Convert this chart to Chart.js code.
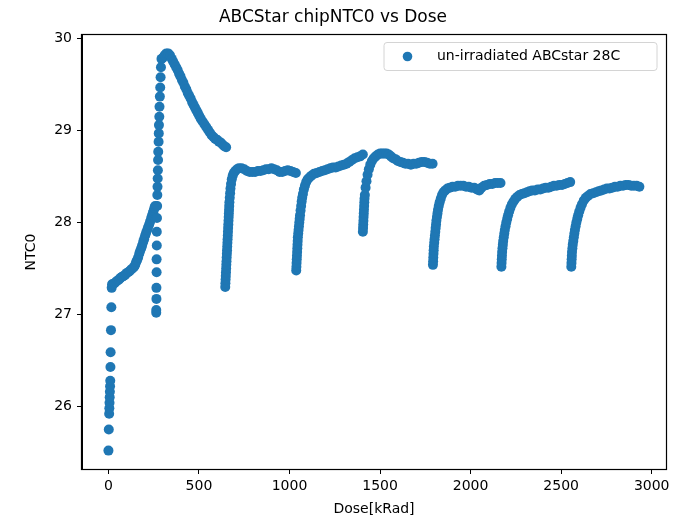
<!DOCTYPE html>
<html>
<head>
<meta charset="utf-8">
<script src="https://cdn.jsdelivr.net/npm/chart.js@4.4.0/dist/chart.umd.min.js"></script>
<style>
    html, body { margin: 0; padding: 0; background: #fff; }
</style>
</head>
<body>
<canvas id="chart" width="682" height="521"></canvas>
<script>
// values, one pair of arrays per run of points
const doseStart = [0, 2, 4, 5, 6, 7, 8, 9, 10, 11, 12, 14, 16, 18, 20];
const ntcStart = [25.52, 25.75, 25.92, 25.98, 26.04, 26.10, 26.16, 26.22, 26.28, 26.43, 26.59, 26.83, 27.08, 27.29, 27.33];

const doseRamp = [24, 34, 43, 51, 59, 67, 76, 84, 92, 100, 109, 117, 125, 133, 142, 148, 153, 158, 164, 170, 175, 181, 186, 192, 197, 203, 208, 214, 219, 225, 230, 236, 241, 246, 250, 254, 258];
const ntcRamp = [27.33, 27.34, 27.36, 27.37, 27.38, 27.40, 27.41, 27.42, 27.43, 27.45, 27.46, 27.47, 27.49, 27.50, 27.52, 27.54, 27.57, 27.59, 27.62, 27.66, 27.69, 27.72, 27.75, 27.79, 27.82, 27.86, 27.89, 27.92, 27.95, 27.98, 28.01, 28.05, 28.08, 28.11, 28.13, 28.16, 28.18];

const doseSpike = [264, 264, 265, 265, 266, 266, 267, 267, 268, 269, 270, 271, 272, 273, 274, 275, 277, 278, 279, 281, 282, 284, 286, 288, 290, 293];
const ntcSpike = [27.02, 27.05, 27.17, 27.29, 27.46, 27.60, 27.75, 27.90, 28.05, 28.18, 28.30, 28.39, 28.48, 28.57, 28.68, 28.77, 28.88, 28.97, 29.06, 29.15, 29.26, 29.37, 29.47, 29.58, 29.69, 29.78];

const dosePeak = [300, 310, 320, 330, 340, 350, 358, 366, 374, 382, 390, 398, 406, 414, 422, 430, 438, 446, 454, 462, 470, 478, 486, 494, 502, 510, 520, 530, 540, 550, 560, 570, 580, 590, 600, 610, 620, 630, 640, 650];
const ntcPeak = [29.79, 29.82, 29.84, 29.84, 29.82, 29.78, 29.75, 29.72, 29.69, 29.66, 29.62, 29.59, 29.55, 29.52, 29.48, 29.45, 29.41, 29.38, 29.35, 29.31, 29.28, 29.25, 29.22, 29.19, 29.16, 29.13, 29.10, 29.07, 29.04, 29.01, 28.98, 28.95, 28.93, 28.91, 28.90, 28.88, 28.87, 28.85, 28.83, 28.82];

const dose3 = [645, 646, 647, 648, 649, 650, 651, 652, 653, 654, 655, 656, 657, 658, 659, 660, 661, 662, 663, 664, 665, 666, 667, 668, 670, 672, 674, 677, 681, 686, 692, 700, 710, 720, 735, 750, 765, 780, 795, 810, 825, 840, 855, 870, 885, 900, 915, 930, 945, 960, 975, 990, 1005, 1020, 1035];
const ntc3 = [27.30, 27.34, 27.38, 27.42, 27.46, 27.50, 27.54, 27.58, 27.62, 27.66, 27.70, 27.74, 27.78, 27.82, 27.86, 27.90, 27.94, 27.98, 28.02, 28.06, 28.10, 28.14, 28.18, 28.22, 28.27, 28.32, 28.37, 28.42, 28.47, 28.51, 28.54, 28.56, 28.58, 28.59, 28.59, 28.58, 28.56, 28.55, 28.55, 28.55, 28.56, 28.56, 28.57, 28.58, 28.58, 28.59, 28.58, 28.57, 28.55, 28.55, 28.56, 28.57, 28.56, 28.55, 28.54];

const dose4 = [1037, 1038, 1039, 1040, 1041, 1042, 1043, 1044, 1045, 1046, 1048, 1050, 1052, 1054, 1056, 1058, 1061, 1064, 1067, 1070, 1074, 1079, 1085, 1092, 1100, 1110, 1120, 1135, 1150, 1165, 1180, 1195, 1210, 1225, 1240, 1255, 1270, 1285, 1300, 1315, 1330, 1345, 1360, 1375, 1390, 1405];
const ntc4 = [27.48, 27.52, 27.56, 27.60, 27.64, 27.68, 27.72, 27.76, 27.80, 27.84, 27.88, 27.92, 27.96, 28.00, 28.04, 28.08, 28.13, 28.18, 28.23, 28.27, 28.31, 28.36, 28.40, 28.44, 28.47, 28.49, 28.51, 28.53, 28.54, 28.55, 28.56, 28.57, 28.58, 28.59, 28.60, 28.60, 28.61, 28.62, 28.63, 28.64, 28.66, 28.68, 28.70, 28.71, 28.72, 28.74];

const dose5 = [1405, 1406, 1407, 1408, 1409, 1410, 1411, 1412, 1413, 1414, 1416, 1420, 1425, 1431, 1438, 1446, 1455, 1465, 1476, 1488, 1500, 1512, 1524, 1536, 1548, 1560, 1572, 1585, 1598, 1612, 1626, 1640, 1655, 1670, 1685, 1700, 1715, 1730, 1745, 1760, 1775, 1790];
const ntc5 = [27.90, 27.94, 27.98, 28.02, 28.06, 28.10, 28.14, 28.18, 28.22, 28.26, 28.30, 28.38, 28.45, 28.52, 28.58, 28.63, 28.67, 28.70, 28.72, 28.74, 28.75, 28.75, 28.75, 28.75, 28.74, 28.72, 28.70, 28.69, 28.67, 28.66, 28.65, 28.64, 28.64, 28.63, 28.64, 28.64, 28.65, 28.66, 28.66, 28.65, 28.64, 28.64];

const dose6 = [1792, 1793, 1794, 1795, 1796, 1797, 1799, 1801, 1803, 1805, 1807, 1809, 1811, 1814, 1817, 1820, 1824, 1829, 1835, 1842, 1850, 1860, 1872, 1885, 1900, 1915, 1930, 1945, 1960, 1975, 1990, 2005, 2020, 2035, 2048, 2060, 2075, 2090, 2105, 2120, 2135, 2150, 2165];
const ntc6 = [27.54, 27.58, 27.62, 27.66, 27.70, 27.74, 27.78, 27.82, 27.86, 27.90, 27.94, 27.98, 28.02, 28.06, 28.10, 28.14, 28.18, 28.22, 28.26, 28.30, 28.33, 28.35, 28.37, 28.38, 28.39, 28.39, 28.40, 28.40, 28.40, 28.39, 28.39, 28.38, 28.38, 28.36, 28.35, 28.38, 28.40, 28.41, 28.42, 28.42, 28.43, 28.43, 28.43];

const dose7 = [2170, 2171, 2172, 2173, 2174, 2176, 2178, 2180, 2183, 2186, 2189, 2193, 2197, 2202, 2207, 2213, 2220, 2228, 2237, 2247, 2258, 2270, 2283, 2297, 2311, 2325, 2340, 2355, 2370, 2385, 2400, 2415, 2430, 2445, 2460, 2475, 2490, 2505, 2520, 2535, 2550];
const ntc7 = [27.52, 27.56, 27.60, 27.64, 27.68, 27.72, 27.76, 27.80, 27.84, 27.88, 27.92, 27.96, 28.00, 28.04, 28.08, 28.12, 28.16, 28.20, 28.23, 28.26, 28.28, 28.30, 28.31, 28.32, 28.33, 28.34, 28.35, 28.35, 28.36, 28.36, 28.37, 28.38, 28.38, 28.39, 28.40, 28.40, 28.41, 28.41, 28.42, 28.43, 28.44];

const dose8 = [2556, 2557, 2558, 2559, 2560, 2562, 2564, 2567, 2570, 2573, 2576, 2580, 2584, 2589, 2594, 2600, 2607, 2615, 2625, 2636, 2648, 2662, 2677, 2692, 2707, 2722, 2737, 2752, 2767, 2782, 2797, 2812, 2827, 2842, 2857, 2872, 2887, 2902, 2917, 2932];
const ntc8 = [27.52, 27.56, 27.60, 27.64, 27.68, 27.72, 27.76, 27.80, 27.84, 27.88, 27.92, 27.96, 28.00, 28.04, 28.08, 28.12, 28.16, 28.20, 28.24, 28.27, 28.29, 28.31, 28.32, 28.33, 28.34, 28.35, 28.36, 28.37, 28.37, 28.38, 28.39, 28.39, 28.40, 28.40, 28.41, 28.41, 28.40, 28.40, 28.40, 28.39];

const doseTicks = [0, 500, 1000, 1500, 2000, 2500, 3000];
const ntcTicks = [26, 27, 28, 29, 30];

const seriesLabel = 'un-irradiated ABCstar 28C';
const blue = '#1f77b4';

const runs = [
    [doseStart, ntcStart], [doseRamp, ntcRamp], [doseSpike, ntcSpike], [dosePeak, ntcPeak],
    [dose3, ntc3], [dose4, ntc4], [dose5, ntc5], [dose6, ntc6], [dose7, ntc7], [dose8, ntc8]
];
const points = [];
for (const [d, t] of runs) {
    d.forEach((x, i) => points.push({ x: x, y: t[i] }));
}

// box round the plot plus the legend in the upper right corner
const framePlugin = {
    id: 'frame',
    afterDraw(chart) {
        const ctx = chart.ctx;
        const a = chart.chartArea;
        ctx.save();
        ctx.strokeStyle = '#000';
        ctx.lineWidth = 1.2;
        ctx.strokeRect(a.left - 0.5, a.top - 0.5, a.right - a.left + 1, a.bottom - a.top + 1);

        const bx = 384, by = 42.5, bw = 273, bh = 28;
        ctx.beginPath();
        ctx.roundRect(bx, by, bw, bh, 3);
        ctx.fillStyle = 'rgba(255,255,255,0.8)';
        ctx.fill();
        ctx.strokeStyle = '#d4d4d4';
        ctx.lineWidth = 1;
        ctx.stroke();

        ctx.beginPath();
        ctx.arc(407.5, 56.5, 4.8, 0, Math.PI * 2);
        ctx.fillStyle = blue;
        ctx.fill();

        ctx.fillStyle = '#000';
        ctx.font = '14px "DejaVu Sans"';
        ctx.textBaseline = 'middle';
        ctx.fillText(seriesLabel, 437, 56.5);
        ctx.restore();
    }
};

new Chart(document.getElementById('chart'), {
    type: 'scatter',
    data: {
        datasets: [{
            label: seriesLabel,
            data: points,
            backgroundColor: blue,
            borderWidth: 0,
            pointRadius: 5,
            pointHoverRadius: 5
        }]
    },
    options: {
        responsive: false,
        animation: false,
        layout: { padding: { left: 0, right: 16, top: 0, bottom: 0 } },
        plugins: {
            legend: { display: false },
            tooltip: { enabled: false },
            title: {
                display: true,
                text: 'ABCStar chipNTC0 vs Dose',
                color: '#000',
                font: { family: 'DejaVu Sans', size: 17, weight: 'normal' },
                padding: { top: 7, bottom: 7.6 }
            }
        },
        scales: {
            x: {
                type: 'linear',
                min: -146,
                max: 3079,
                afterBuildTicks: (scale) => { scale.ticks = doseTicks.map(v => ({ value: v })); },
                afterFit: (scale) => { scale.height = 52; },
                grid: { drawOnChartArea: false, tickLength: 5, tickColor: '#000' },
                border: { display: true, color: '#000' },
                ticks: {
                    color: '#000', padding: 4, maxRotation: 0,
                    font: { family: 'DejaVu Sans', size: 14 },
                    callback: (v) => String(v)
                },
                title: {
                    display: true,
                    text: 'Dose[kRad]',
                    color: '#000',
                    font: { family: 'DejaVu Sans', size: 14 },
                    padding: { top: 0, bottom: 3 }
                }
            },
            y: {
                type: 'linear',
                min: 25.32,
                max: 30.04,
                afterBuildTicks: (scale) => { scale.ticks = ntcTicks.map(v => ({ value: v })); },
                afterFit: (scale) => { scale.width = 82; },
                grid: { drawOnChartArea: false, tickLength: 5, tickColor: '#000' },
                border: { display: true, color: '#000' },
                ticks: {
                    color: '#000', padding: 5,
                    font: { family: 'DejaVu Sans', size: 14 },
                    callback: (v) => String(v)
                },
                title: {
                    display: true,
                    text: 'NTC0',
                    color: '#000',
                    font: { family: 'DejaVu Sans', size: 14 },
                    padding: { top: 23, bottom: 0 }
                }
            }
        }
    },
    plugins: [framePlugin]
});
</script>
</body>
</html>
